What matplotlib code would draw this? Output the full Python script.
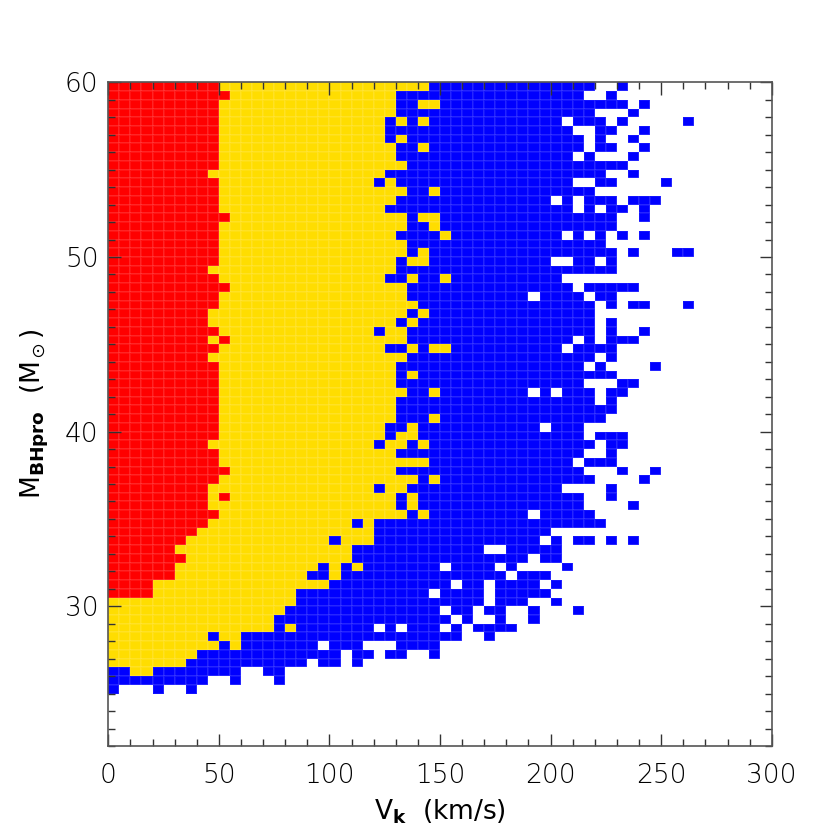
import numpy as np
import matplotlib.pyplot as plt
from matplotlib.colors import ListedColormap
from matplotlib.ticker import MultipleLocator

# bins: 5 km/s in kick velocity, 0.5 Msun in progenitor mass (from 60 down)
vk_edges = np.arange(0, 280, 5)
m_top = 60.0
m_step = 0.5

# outcome per bin, one string per mass row starting at 60 Msun
# '.' = nothing, R / Y / B = the three outcomes, groups of 5 bins (25 km/s)
# vk 0 - 125 km/s
left = [
    "RRRRR RRRRR YYYYY YYYYY YYYYY",
    "RRRRR RRRRR RYYYY YYYYY YYYYY",
    "RRRRR RRRRR YYYYY YYYYY YYYYY",
    "RRRRR RRRRR YYYYY YYYYY YYYYY",
    "RRRRR RRRRR YYYYY YYYYY YYYYY",
    "RRRRR RRRRR YYYYY YYYYY YYYYY",
    "RRRRR RRRRR YYYYY YYYYY YYYYY",
    "RRRRR RRRRR YYYYY YYYYY YYYYY",
    "RRRRR RRRRR YYYYY YYYYY YYYYY",
    "RRRRR RRRRR YYYYY YYYYY YYYYY",
    "RRRRR RRRRY YYYYY YYYYY YYYYY",  # 10
    "RRRRR RRRRR YYYYY YYYYY YYYYB",
    "RRRRR RRRRR YYYYY YYYYY YYYYY",
    "RRRRR RRRRR YYYYY YYYYY YYYYY",
    "RRRRR RRRRR YYYYY YYYYY YYYYY",
    "RRRRR RRRRR RYYYY YYYYY YYYYY",
    "RRRRR RRRRR YYYYY YYYYY YYYYY",
    "RRRRR RRRRR YYYYY YYYYY YYYYY",
    "RRRRR RRRRR YYYYY YYYYY YYYYY",
    "RRRRR RRRRR YYYYY YYYYY YYYYY",
    "RRRRR RRRRR YYYYY YYYYY YYYYY",  # 20
    "RRRRR RRRRY YYYYY YYYYY YYYYY",
    "RRRRR RRRRR YYYYY YYYYY YYYYY",
    "RRRRR RRRRR RYYYY YYYYY YYYYY",
    "RRRRR RRRRR YYYYY YYYYY YYYYY",
    "RRRRR RRRRR YYYYY YYYYY YYYYY",
    "RRRRR RRRRY YYYYY YYYYY YYYYY",
    "RRRRR RRRRY YYYYY YYYYY YYYYY",
    "RRRRR RRRRR YYYYY YYYYY YYYYB",
    "RRRRR RRRRY RYYYY YYYYY YYYYY",
    "RRRRR RRRRR YYYYY YYYYY YYYYY",  # 30
    "RRRRR RRRRY YYYYY YYYYY YYYYY",
    "RRRRR RRRRR YYYYY YYYYY YYYYY",
    "RRRRR RRRRR YYYYY YYYYY YYYYY",
    "RRRRR RRRRR YYYYY YYYYY YYYYY",
    "RRRRR RRRRR YYYYY YYYYY YYYYY",
    "RRRRR RRRRR YYYYY YYYYY YYYYY",
    "RRRRR RRRRR YYYYY YYYYY YYYYY",
    "RRRRR RRRRR YYYYY YYYYY YYYYY",
    "RRRRR RRRRR YYYYY YYYYY YYYYY",
    "RRRRR RRRRR YYYYY YYYYY YYYYY",  # 40
    "RRRRR RRRRY YYYYY YYYYY YYYYB",
    "RRRRR RRRRR YYYYY YYYYY YYYYY",
    "RRRRR RRRRR YYYYY YYYYY YYYYY",
    "RRRRR RRRRR RYYYY YYYYY YYYYY",
    "RRRRR RRRRR YYYYY YYYYY YYYYY",
    "RRRRR RRRRY YYYYY YYYYY YYYYB",
    "RRRRR RRRRY RYYYY YYYYY YYYYY",
    "RRRRR RRRRY YYYYY YYYYY YYYYY",
    "RRRRR RRRRR YYYYY YYYYY YYYYY",
    "RRRRR RRRRY YYYYY YYYYY YYBYB",  # 50
    "RRRRR RRRYY YYYYY YYYYY YYYYB",
    "RRRRR RRYYY YYYYY YYYYY BYYYB",
    "RRRRR RYYYY YYYYY YYYYY YYBBB",
    "RRRRR RRYYY YYYYY YYYYY YYBBB",
    "RRRRR RYYYY YYYYY YYYYB YBYBB",
    "RRRRR RYYYY YYYYY YYYBB YBBBB",
    "RRRRY YYYYY YYYYY YYYYY BBBBB",
    "RRRRY YYYYY YYYYY YYBBB BBBBB",
    "YYYYY YYYYY YYYYY YYBBB BBBBB",
    "YYYYY YYYYY YYYYY YBBBB BBBBB",  # 60
    "YYYYY YYYYY YYYYY BBBBB BBBBB",
    "YYYYY YYYYY YYYYY BYBBB BBBB.",
    "YYYYY YYYYB YYBBB BBBBB BBBBB",
    "YYYYY YYYYY BYBBB BBBB. BBB..",
    "YYYYY YYYBB BBBBB BBBBB B.BB.",
    "YYYYY YYBBB BBBBB BBB.B B.B..",
    "BBYYB BBBBB BB..B B.... .....",
    "BBBBB BBBB. .B... B.... .....",
    "B...B ..B.. ..... ..... .....",
]

# vk 125 - 200 km/s
mid = [
    "YYYYB BBBBB BBBBB",
    "YBBBB BBBBB BBBBB",
    "YBBYY BBBBB BBBBB",
    "YBBBB BBBBB BBBBB",
    "BYBYB BBBBB BBBBB",
    "BBBBB BBBBB BBBBB",
    "BYBBB BBBBB BBBBB",
    "YBBYB BBBBB BBBBB",
    "YBBBB BBBBB BBBBB",
    "YYBBB BBBBB BBBBB",
    "BBBBB BBBBB BBBBB",  # 10
    "YBBBB BBBBB BBBBB",
    "YYBBY BBBBB BBBBB",
    "YBBBB BBBBB BBBBB",
    "BBBBB BBBBB BBBBB",
    "YYBYY BBBBB BBBBB",
    "YYBBY BBBBB BBBBB",
    "YBBBB YBBBB BBBBB",
    "YYBBB BBBBB BBBBB",
    "YYBYB BBBBB BBBBB",
    "YBYYB BBBBB BBBBB",  # 20
    "YBBBB BBBBB BBBBB",
    "BBYBB YBBBB BBBBB",
    "YYBBB BBBBB BBBBB",
    "YYBBB BBBBB BBB.B",
    "YYYBB BBBBB BBBBB",
    "YYBYB BBBBB BBBBB",
    "YBYBB BBBBB BBBBB",
    "YYBBB BBBBB BBBBB",
    "YYBBB BBBBB BBBBB",
    "BBYBY YBBBB BBBBB",  # 30
    "YYBBB BBBBB BBBBB",
    "YBBBB BBBBB BBBBB",
    "YBYBB BBBBB BBBBB",
    "YBBBB BBBBB BBBBB",
    "YYBBY BBBBB BBB.B",
    "YBBBB BBBBB BBBBB",
    "YBBBB BBBBB BBBBB",
    "YBBBY BBBBB BBBBB",
    "BBYBB BBBBB BBBB.",
    "BYYBB BBBBB BBBBB",  # 40
    "YYBYB BBBBB BBBBB",
    "YBBBB BBBBB BBBBB",
    "YYYYB BBBBB BBBBB",
    "YBBBB BBBBB BBBBB",
    "YYYBY BBBBB BBBBB",
    "YYBBB BBBBB BBBBB",
    "YBYBB BBBBB BBBBB",
    "YBYBB BBBBB BBBBB",
    "YYBYB BBBBB BBB.B",
    "BBBBB BBBBB BBBBB",  # 50
    "BBBBB BBBBB BBBBB",
    "BBBBB BBBBB BBBB.",
    "BBBBB BBBB. .BBBB",
    "BBBBB BBBBB BBB.B",
    "BBBBB .BBBB .B...",
    "BBBBB BBBBB B.BBB",
    "BBBBB B.BB. BBBB.",
    "BBBB. BBBB. BBBBB",
    "BBBBB BBBB. BBB..",
    "BBBBB .BB.B B..B.",  # 60
    "BBBBB B.B.. B..B.",
    "B.BBB .B.BB BB...",
    "BBBBB BB..B .....",
    ".BBBB ..... .....",
    "BB..B ..... .....",
    "..... ..... .....",
    "..... ..... .....",
    "..... ..... .....",
    "..... ..... .....",
]

# vk 200 - 275 km/s
right = [
    "BBBB. .B... .....",
    "BBB.. B.... .....",
    "BBBBB BB.B. .....",
    "BBBB. ..B.. .....",
    "B.BBB .B... ..B..",
    "BB..B B..B. .....",
    "BBB.B ..B.. .....",
    "BBB.B B..B. .....",
    "BB.B. ..B.. .....",
    "BBBBB BB... .....",
    "BBBBB ..B.. .....",  # 10
    "BB..B B.... B....",
    "BBBB. ..... .....",
    ".B.BB B.BBB .....",
    "BB.B. BB.B. .....",
    "BBBBB B..B. .....",
    "BBBBB B.... .....",
    "B.B.B .B.B. .....",
    "BBBBB ..... .....",
    "BBBBB B.B.. .BB..",
    "..BB. B.... .....",  # 20
    "BBBBB B.... .....",
    "B.... ..... .....",
    "BB.BB BBB.. .....",
    "BBB.B B.... .....",
    "BBBB. B.BB. ..B..",
    "BBBB. ..... .....",
    "BBBB. B.... .....",
    "BBBB. B..B. .....",
    "BB.B. BBB.. .....",
    "B.BBB B.... .....",  # 30
    "BBBB. B.... .....",
    "BBB.B ....B .....",
    "BBBBB B.... .....",
    "BBB.. .BB.. .....",
    ".BBB. BB... .....",
    "BBBB. B.... .....",
    "BBBBB B.... .....",
    "BBBBB ..... .....",
    "BBB.. ..... .....",
    "BBB.B BB... .....",  # 40
    "BBBB. BB... .....",
    "BBB.. B.... .....",
    "BB.BB B.... .....",
    "BBB.. .B..B .....",
    "BBBB. ...B. .....",
    "B.... B.... .....",
    "BBB.. B.... .....",
    "BBB.. ..B.. .....",
    "BBBB. ..... .....",
    "BBBBB ..... .....",  # 50
    "..... ..... .....",
    "B.BB. B.B.. .....",
    "B.... ..... .....",
    "B.... ..... .....",
    ".B... ..... .....",
    "..... ..... .....",
    "B.... ..... .....",
    "..... ..... .....",
    "B.... ..... .....",
    "..B.. ..... .....",  # 60
    "..... ..... .....",
    "..... ..... .....",
    "..... ..... .....",
    "..... ..... .....",
    "..... ..... .....",
    "..... ..... .....",
    "..... ..... .....",
    "..... ..... .....",
    "..... ..... .....",
]

codes = {'.': 0, 'R': 1, 'Y': 2, 'B': 3}
colors = ['white', '#ff0000', '#ffdd00', '#0000ff']

rows = [(l + m + r).replace(' ', '') for l, m, r in zip(left, mid, right)]
for i, row in enumerate(rows):
    assert len(row) == len(vk_edges) - 1, (i, len(row))
grid = np.array([[codes[c] for c in row] for row in rows])
m_edges = m_top - m_step * np.arange(len(rows) + 1)

plt.rcParams['font.family'] = 'DejaVu Sans'
plt.rcParams['font.weight'] = 'light'
plt.rcParams['font.size'] = 19
plt.rcParams['mathtext.fontset'] = 'dejavusans'

fig = plt.figure(figsize=(8.3, 8.3), dpi=100)
ax = fig.add_axes([0.1305, 0.1012, 0.7993, 0.7996])

ax.pcolormesh(vk_edges, m_edges, grid, cmap=ListedColormap(colors),
              vmin=-0.5, vmax=3.5, edgecolors=(1, 1, 1, 0.08), linewidth=0.3)

ax.set_xlim(0, 300)
ax.set_ylim(22, 60)
ax.set_xticks(np.arange(0, 301, 50))
ax.set_yticks([30, 40, 50, 60])
ax.xaxis.set_minor_locator(MultipleLocator(10))
ax.yaxis.set_minor_locator(MultipleLocator(1))
ax.tick_params(which='both', direction='in', top=True, right=True,
               color='#333333', width=1.0)
ax.tick_params(which='major', length=9)
ax.tick_params(which='minor', length=5)
ax.tick_params(axis='x', which='major', pad=12)
ax.tick_params(axis='y', which='major', pad=7)
for s in ax.spines.values():
    s.set_color('#555555')
    s.set_linewidth(1.2)

ax.set_xlabel(r'V$_{\mathbf{k}}$  (km/s)', labelpad=7)
ax.set_ylabel(r'M$_{\mathbf{BHpro}}$  (M$_\odot$)', labelpad=10)

plt.savefig('out.png', dpi=100)
